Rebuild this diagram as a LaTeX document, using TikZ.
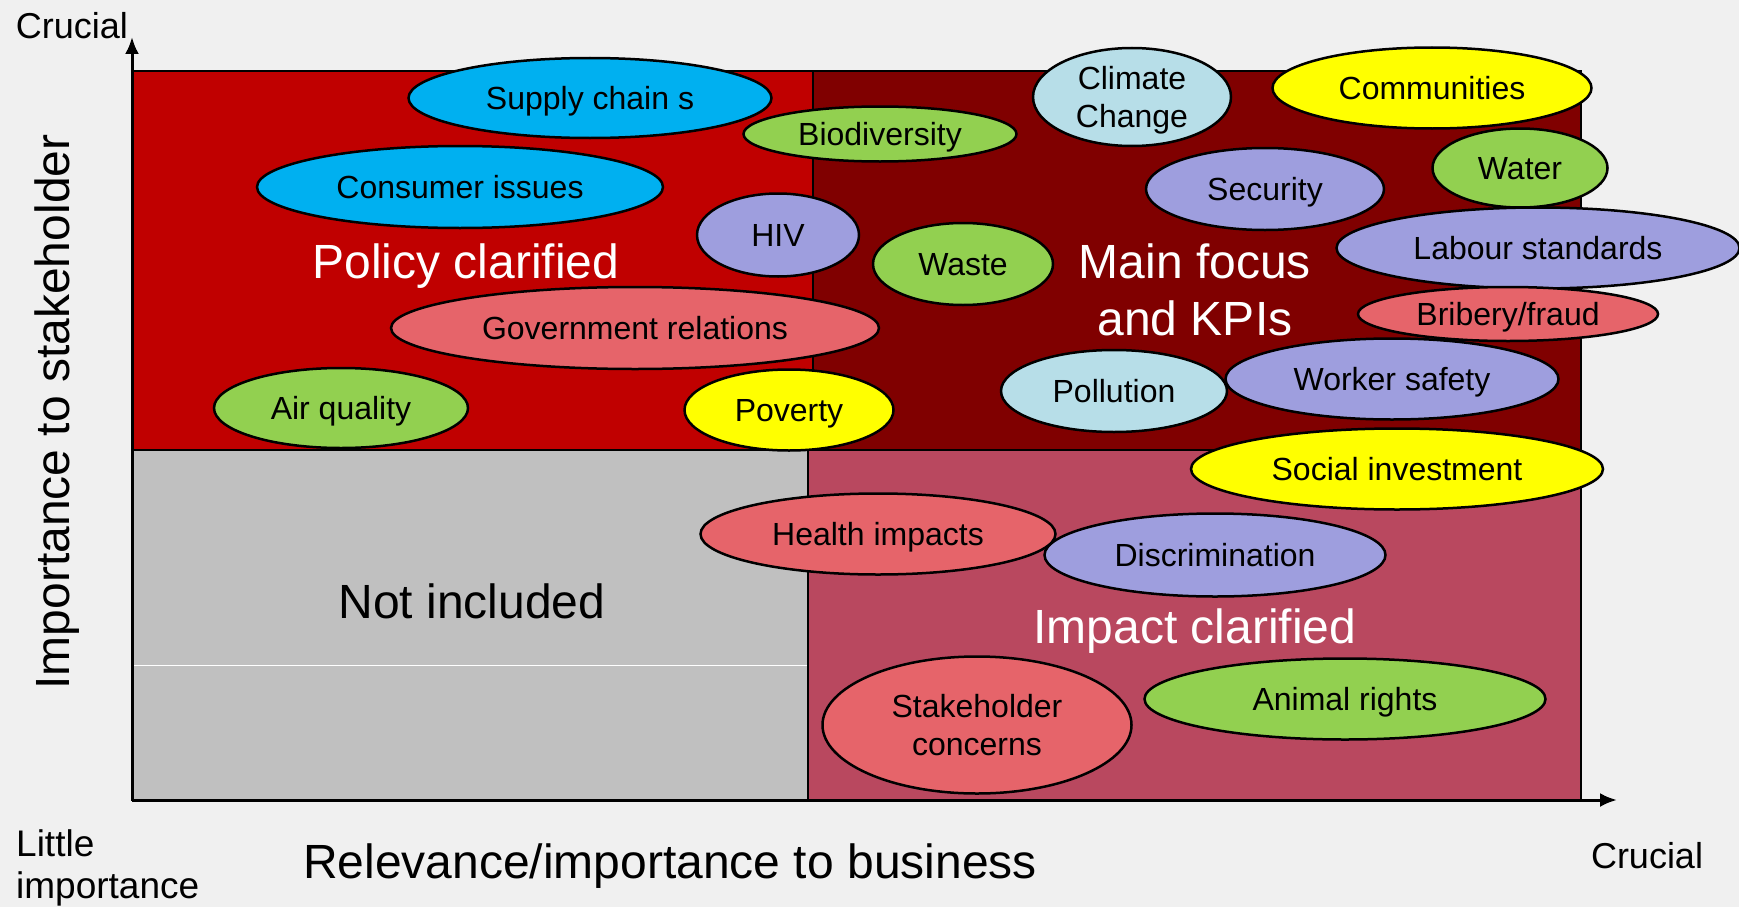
\documentclass[tikz,border=0pt]{standalone}
\usepackage{fontspec}
\setmainfont{Liberation Sans}
\usetikzlibrary{shapes.geometric,arrows.meta}
\definecolor{bgc}{RGB}{240,240,240}
\definecolor{policyc}{RGB}{192,0,0}
\definecolor{mainc}{RGB}{128,0,0}
\definecolor{impc}{RGB}{185,72,95}
\definecolor{notc}{RGB}{192,192,192}
\definecolor{cyanc}{RGB}{0,176,240}
\definecolor{greenc}{RGB}{146,208,80}
\definecolor{yellowc}{RGB}{255,255,0}
\definecolor{lavc}{RGB}{158,158,222}
\definecolor{salmc}{RGB}{230,100,106}
\definecolor{lbluec}{RGB}{183,222,232}
\begin{document}
\begin{tikzpicture}[x=1pt,y=-1pt,
  bub/.style={ellipse,draw=black,line width=2.5pt,inner sep=0pt,align=center,
    text depth=0pt,font=\fontsize{32}{38}\selectfont},
  quad/.style={draw=black,line width=2pt},
  big/.style={font=\fontsize{48}{57}\selectfont,align=center},
  axl/.style={font=\fontsize{36}{42}\selectfont,inner sep=0pt},
  axis/.style={draw=black,line width=3pt,-{Latex[length=17pt,width=14pt]}}]
\fill[bgc] (0,0) rectangle (1739,907);
\useasboundingbox (0,0) rectangle (1739,907);
% quadrants
\filldraw[quad,fill=policyc] (132,71) rectangle (813,450);
\filldraw[quad,fill=mainc] (813,71) rectangle (1581,450);
\filldraw[quad,fill=notc] (132,450) rectangle (808,800);
\filldraw[quad,fill=impc] (808,450) rectangle (1581,801);
\coordinate (wl1) at (133,665);
\coordinate (wl2) at (807,665);
\draw[white,line width=0.8pt] (wl1) -- (wl2);
% region labels
\node[big,white,anchor=base,inner sep=0pt] (policy) at (466,278) {Policy clarified};
\node[big,white,inner sep=0pt] (mainf) at (1195,290) {Main focus\\and KPIs};
\node[big,white,anchor=base,inner sep=0pt] (impact) at (1195,643) {Impact clarified};
\node[big,black,anchor=base,inner sep=0pt] (notinc) at (472,618) {Not included};
% axes
\coordinate (O) at (132,800);
\coordinate (ytip) at (132,37);
\coordinate (xtip) at (1617,800);
\draw[axis] (O) -- (ytip);
\draw[axis] (O) -- (xtip);
\node[axl,anchor=base] (crucialy) at (72,39) {Crucial};
\node[axl,anchor=base] (crucialx) at (1647,868) {Crucial};
\node[axl,anchor=base west,font=\fontsize{37}{42}\selectfont] (little) at (16,856) {Little};
\node[axl,anchor=base west,font=\fontsize{37}{42}\selectfont] (littleimp) at (16,898) {importance};
\node[font=\fontsize{48}{55}\selectfont,anchor=base,inner sep=0pt] (xlab) at (670,878) {Relevance/importance to business};
\node[font=\fontsize{48}{56}\selectfont,anchor=base,inner sep=0pt,rotate=90] (ylab) at (69,412) {Importance to stakeholder};
% bubbles
\node[bub,fill=cyanc,minimum width=363pt,minimum height=80pt] (supply) at (590,98) {Supply chain s};
\node[bub,fill=greenc,minimum width=273pt,minimum height=55pt] (biodiv) at (880,134) {Biodiversity};
\node[bub,fill=cyanc,minimum width=406pt,minimum height=82pt] (consumer) at (460,187) {Consumer issues};
\node[bub,fill=lavc,minimum width=162pt,minimum height=83pt] (hiv) at (778,235) {HIV};
\node[bub,fill=salmc,minimum width=488pt,minimum height=82pt] (govt) at (635,328) {Government relations};
\node[bub,fill=greenc,minimum width=254pt,minimum height=80pt] (air) at (341,408) {Air quality};
\node[bub,fill=yellowc,minimum width=209pt,minimum height=81pt] (poverty) at (789,410) {Poverty};
\node[bub,fill=lbluec,minimum width=198pt,minimum height=98pt] (climate) at (1132,97) {Climate\\Change};
\node[bub,fill=yellowc,minimum width=319pt,minimum height=81pt] (communities) at (1432,88) {Communities};
\node[bub,fill=greenc,minimum width=175pt,minimum height=79pt] (water) at (1520,168) {Water};
\node[bub,fill=lavc,minimum width=238pt,minimum height=82pt] (security) at (1265,189) {Security};
\node[bub,fill=greenc,minimum width=180pt,minimum height=82pt] (waste) at (963,264) {Waste};
\node[bub,fill=lavc,minimum width=403pt,minimum height=81pt] (labour) at (1538,248) {Labour standards};
\node[bub,fill=salmc,minimum width=300pt,minimum height=54pt] (bribery) at (1508,314) {Bribery/fraud};
\node[bub,fill=lbluec,minimum width=226pt,minimum height=82pt] (pollution) at (1114,391) {Pollution};
\node[bub,fill=lavc,minimum width=333pt,minimum height=81pt] (worker) at (1392,379) {Worker safety};
\node[bub,fill=yellowc,minimum width=412pt,minimum height=81pt] (social) at (1397,469) {Social investment};
\node[bub,fill=lavc,minimum width=341pt,minimum height=83pt] (discrim) at (1215,555) {Discrimination};
\node[bub,fill=salmc,minimum width=355pt,minimum height=81pt] (health) at (878,534) {Health impacts};
\node[bub,fill=salmc,minimum width=309pt,minimum height=137pt] (stake) at (977,725) {Stakeholder\\concerns};
\node[bub,fill=greenc,minimum width=401pt,minimum height=81pt] (animal) at (1345,699) {Animal rights};
\end{tikzpicture}
\end{document}
